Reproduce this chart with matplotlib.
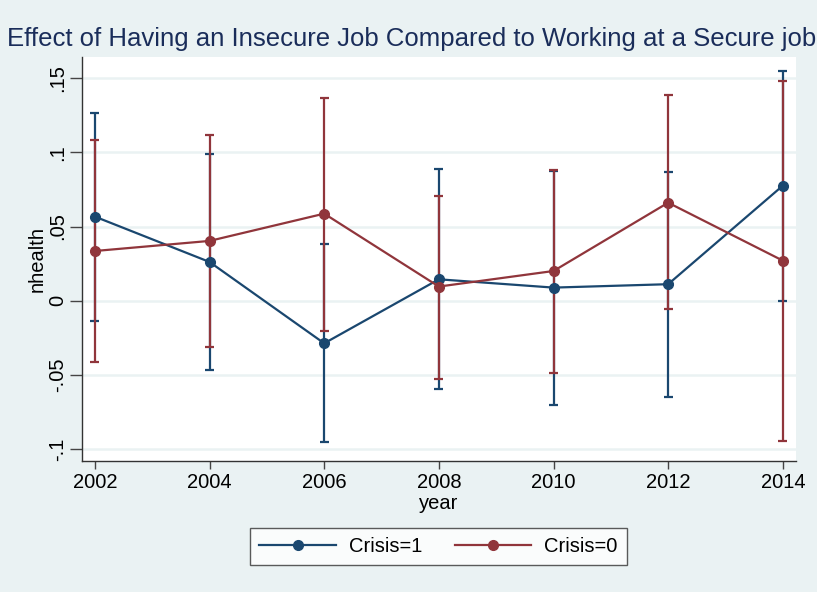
import matplotlib.pyplot as plt
from matplotlib.lines import Line2D

plt.rcParams['font.family'] = ['Liberation Sans', 'DejaVu Sans']

years = [2002, 2004, 2006, 2008, 2010, 2012, 2014]

# Crisis=1
c1_est = [0.0567, 0.0261, -0.0288, 0.0144, 0.0088, 0.0111, 0.0776]
c1_lo = [-0.0137, -0.0468, -0.0951, -0.0596, -0.0702, -0.0650, -0.0002]
c1_hi = [0.1269, 0.0988, 0.0383, 0.0887, 0.0877, 0.0866, 0.1552]

# Crisis=0
c0_est = [0.0335, 0.0403, 0.0587, 0.0095, 0.0200, 0.0661, 0.0270]
c0_lo = [-0.0412, -0.0310, -0.0202, -0.0528, -0.0490, -0.0058, -0.0945]
c0_hi = [0.1084, 0.1118, 0.1366, 0.0709, 0.0882, 0.1386, 0.1484]

yticks = [-0.1, -0.05, 0, 0.05, 0.1, 0.15]
ytick_labels = ['-.1', '-.05', '0', '.05', '.1', '.15']

bg = '#eaf2f3'
blue = '#1a476f'
red = '#90353b'

fig = plt.figure(figsize=(8.17, 5.92), dpi=100, facecolor=bg)
ax = fig.add_axes([0.1007, 0.2213, 0.8736, 0.6824])
ax.set_facecolor('white')

# confidence intervals first
for lo, hi, col in [(c1_lo, c1_hi, blue), (c0_lo, c0_hi, red)]:
    ax.vlines(years, lo, hi, color=col, lw=1.6, zorder=2)
    ax.hlines(lo, [y - 0.08 for y in years], [y + 0.08 for y in years], color=col, lw=1.6, zorder=2)
    ax.hlines(hi, [y - 0.08 for y in years], [y + 0.08 for y in years], color=col, lw=1.6, zorder=2)

ax.plot(years, c1_est, color=blue, lw=1.6, marker='o', ms=7, zorder=3)
ax.plot(years, c0_est, color=red, lw=1.6, marker='o', ms=7, zorder=4)

ax.set_xlim(2001.78, 2014.23)
ax.set_ylim(-0.1082, 0.1644)
ax.set_xticks(years)
ax.set_xticklabels([str(y) for y in years], fontsize=14.5)
ax.set_yticks(yticks)
ax.set_yticklabels(ytick_labels, fontsize=14.5, rotation=90, va='center')

ax.grid(axis='y', color=bg, lw=1.8, zorder=0)
ax.set_axisbelow(True)
for s in ['top', 'right']:
    ax.spines[s].set_visible(False)
for s in ['left', 'bottom']:
    ax.spines[s].set_color('#333333')
    ax.spines[s].set_linewidth(1.0)
ax.tick_params(axis='y', length=9, width=1.0, color='#444444', pad=2)
ax.tick_params(axis='x', length=6, width=1.0, color='#444444', pad=3)

ax.set_xlabel('year', fontsize=14.5, labelpad=1)
ax.set_ylabel('nhealth', fontsize=14.5, labelpad=1)

fig.text(7 / 817, 1 - 39 / 592, 'Effect of Having an Insecure Job Compared to Working at a Secure job',
         fontsize=18.5, color='#1a2d5a', ha='left', va='center')

handles = [Line2D([0], [0], color=blue, lw=1.6, marker='o', ms=7),
           Line2D([0], [0], color=red, lw=1.6, marker='o', ms=7)]
leg = fig.legend(handles, ['Crisis=1', 'Crisis=0'], loc='center', bbox_to_anchor=(438.5 / 817, 1 - 546.5 / 592),
                 ncol=2, fontsize=14.5, frameon=True, fancybox=False, handlelength=3.8,
                 columnspacing=1.6, borderpad=0.45, handletextpad=0.65, borderaxespad=0)
leg.get_frame().set_edgecolor('#333333')
leg.get_frame().set_linewidth(1.0)

fig.savefig('out.png', dpi=100, facecolor=bg)
